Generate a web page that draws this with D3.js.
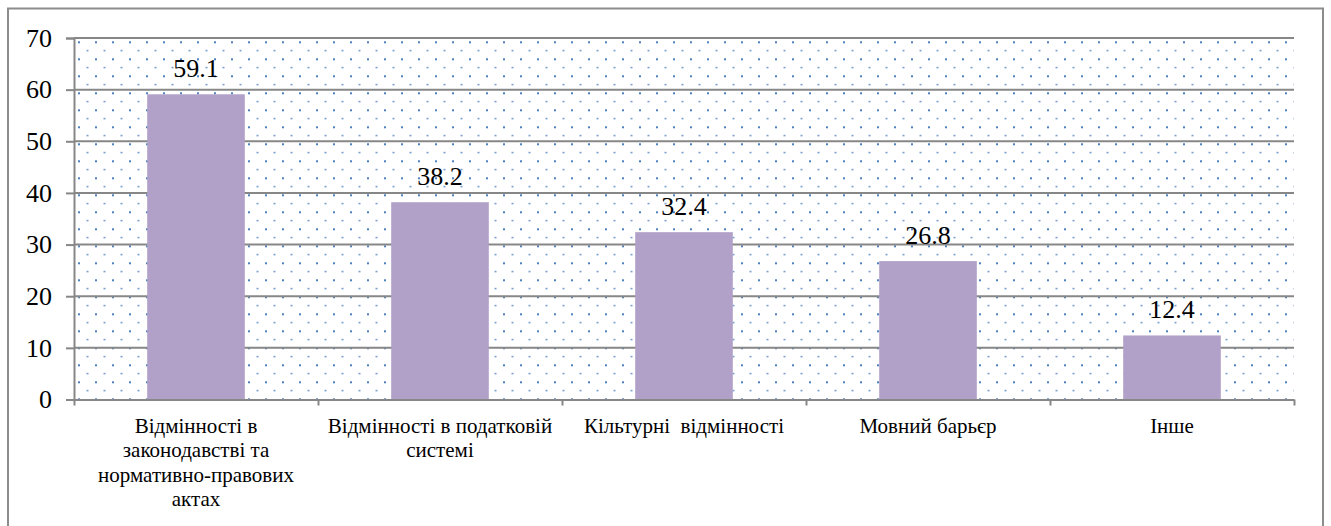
<!DOCTYPE html>
<html>
<head>
<meta charset="utf-8">
<script src="https://cdn.jsdelivr.net/npm/d3@7"></script>
</head>
<body style="margin:0">
<div id="chart"></div>
<script>
// --- Data ---
const categories = [
  'Відмінності в\nзаконодавстві та\nнормативно-правових\nактах',
  'Відмінності в податковій\nсистемі',
  'Кільтурні  відмінності',
  'Мовний барьєр',
  'Інше'
];
const values = [59.1, 38.2, 32.4, 26.8, 12.4];
const yTicks = [0, 10, 20, 30, 40, 50, 60, 70];

// --- Layout ---
const width = 1331, height = 526;
const plot = {left: 74, right: 1294, top: 38, bottom: 399.5};
const fontFamily = 'Liberation Serif';

const svg = d3.select('#chart')
  .append('svg')
  .attr('width', width)
  .attr('height', height)
  .attr('font-family', fontFamily)
  .style('display', 'block');

// dotted fill of the plot area
const defs = svg.append('defs');
const pat = defs.append('pattern')
  .attr('id', 'dots')
  .attr('patternUnits', 'userSpaceOnUse')
  .attr('x', 78).attr('y', 41.3)
  .attr('width', 17).attr('height', 17);
pat.append('rect').attr('width', 17).attr('height', 17).attr('fill', '#fff');
pat.append('rect').attr('x', 0).attr('y', 0).attr('width', 2).attr('height', 2).attr('fill', '#4f81bd');
pat.append('rect').attr('x', 8.5).attr('y', 8.8).attr('width', 2).attr('height', 1.2).attr('fill', '#4f81bd');

// outer frame
svg.append('rect')
  .attr('x', 8).attr('y', 8.5)
  .attr('width', 1315).attr('height', 560)
  .attr('fill', '#fff')
  .attr('stroke', '#8c8c8c')
  .attr('stroke-width', 2);

// Scales
const x = d3.scaleBand()
  .domain(d3.range(categories.length))
  .range([plot.left, plot.right])
  .paddingInner(0.6)
  .paddingOuter(0.3);

const xEdge = d3.scaleLinear()
  .domain([0, categories.length])
  .range([plot.left, plot.right]);

const y = d3.scaleLinear()
  .domain([0, 70])
  .range([plot.bottom, plot.top]);

// plot background
svg.append('rect')
  .attr('x', plot.left).attr('y', plot.top)
  .attr('width', plot.right - plot.left)
  .attr('height', plot.bottom - plot.top)
  .attr('fill', 'url(#dots)');

// gridlines
svg.append('g')
  .selectAll('line')
  .data(yTicks.filter(d => d > 0))
  .join('line')
  .attr('x1', plot.left).attr('x2', plot.right)
  .attr('y1', d => y(d)).attr('y2', d => y(d))
  .attr('stroke', '#878787')
  .attr('stroke-width', 2);

// bars
svg.append('g')
  .selectAll('rect')
  .data(values)
  .join('rect')
  .attr('x', (d, i) => x(i))
  .attr('y', d => y(d))
  .attr('width', x.bandwidth())
  .attr('height', d => y(0) - y(d))
  .attr('fill', '#b1a0c7');

// y axis
const yAxis = svg.append('g')
  .attr('transform', `translate(${plot.left},0)`)
  .call(d3.axisLeft(y).tickValues(yTicks).tickSize(8).tickPadding(14).tickFormat(d3.format('d')))
  .attr('font-family', fontFamily)
  .attr('font-size', 26);
yAxis.select('.domain').attr('stroke', '#878787').attr('stroke-width', 2);
yAxis.selectAll('.tick line').attr('stroke', '#878787').attr('stroke-width', 2);
yAxis.selectAll('.tick text').attr('fill', '#000');

// x axis (ticks at category boundaries)
const xAxis = svg.append('g')
  .attr('transform', `translate(0,${plot.bottom})`)
  .call(d3.axisBottom(xEdge).tickValues(d3.range(categories.length + 1)).tickSize(6).tickSizeOuter(0).tickFormat(''));
xAxis.select('.domain').attr('stroke', '#878787').attr('stroke-width', 2);
xAxis.selectAll('.tick line').attr('stroke', '#878787').attr('stroke-width', 2);

// category labels, one text per line
categories.forEach((label, i) => {
  const cx = x(i) + x.bandwidth() / 2;
  label.split('\n').forEach((line, j) => {
    svg.append('text')
      .attr('x', cx)
      .attr('y', 433 + j * 24.3)
      .attr('text-anchor', 'middle')
      .attr('font-family', fontFamily)
      .attr('font-size', 21)
      .attr('xml:space', 'preserve')
      .attr('fill', '#000')
      .text(line);
  });
});

// value labels
svg.append('g')
  .selectAll('text')
  .data(values)
  .join('text')
  .attr('x', (d, i) => x(i) + x.bandwidth() / 2)
  .attr('y', d => y(d) - 17.5)
  .attr('text-anchor', 'middle')
  .attr('font-family', fontFamily)
  .attr('font-size', 26)
  .attr('fill', '#000')
  .text(d => d3.format('.1f')(d));
</script>
</body>
</html>
